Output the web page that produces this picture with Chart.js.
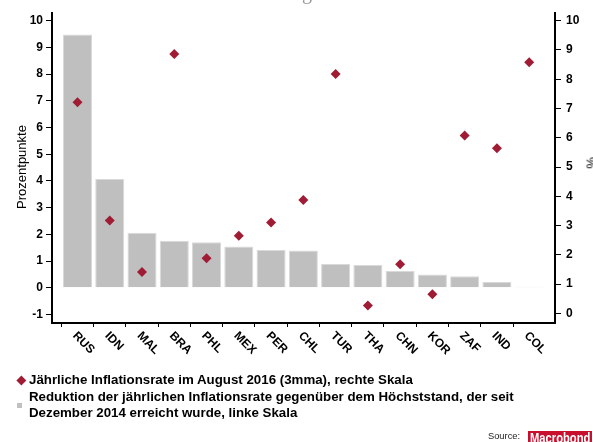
<!DOCTYPE html>
<html><head><meta charset="utf-8">
<script src="https://cdn.jsdelivr.net/npm/chart.js@4/dist/chart.umd.min.js"></script>
<style>
html,body{margin:0;padding:0;background:#fff;}
#wrap{position:relative;width:593px;height:442px;overflow:hidden;font-family:"Liberation Sans",Arial,sans-serif;}
canvas{position:absolute;left:0;top:0;}
.t{position:absolute;white-space:nowrap;color:#000;}
</style></head><body>
<div id="wrap">
<canvas id="c" width="593" height="442"></canvas>
<div class="t" id="ytl" style="left:21px;top:166.5px;font-size:13px;transform:translate(-50%,-50%) rotate(-90deg);">Prozentpunkte</div>
<div class="t" id="ytr" style="left:591px;top:162.5px;font-size:13px;transform:translate(-50%,-50%) rotate(90deg);">%</div>
<div style="position:absolute;left:17.5px;top:376.5px;width:6.7px;height:6.7px;background:#a01c35;transform:rotate(45deg);"></div>
<div class="t" style="left:29px;top:371.6px;font-size:13.3px;font-weight:bold;line-height:16px;">Jährliche Inflationsrate im August 2016 (3mma), rechte Skala</div>
<div style="position:absolute;left:17px;top:402.5px;width:5.3px;height:5.3px;background:#c0c0c0;"></div>
<div class="t" style="left:29px;top:389px;font-size:13.3px;font-weight:bold;line-height:16px;">Reduktion der jährlichen Inflationsrate gegenüber dem Höchststand, der seit<br>Dezember 2014 erreicht wurde, linke Skala</div>
<div class="t" style="left:488px;top:430.6px;font-size:9.3px;line-height:11px;color:#222;">Source:</div>
<div style="position:absolute;left:528px;top:431px;width:64px;height:14px;background:#c8102e;overflow:hidden;">
  <div class="t" style="left:2px;top:0;font-size:14px;font-weight:bold;line-height:14px;color:#fff;transform-origin:0 0;transform:scaleX(0.8);">Macrobond</div>
</div>
</div>
<script>
const categories = ['RUS','IDN','MAL','BRA','PHL','MEX','PER','CHL','TUR','THA','CHN','KOR','ZAF','IND','COL'];
// Reduction of annual inflation from peak since Dec 2014 (left axis, percentage points)
const reduction = [9.48, 4.07, 2.06, 1.76, 1.70, 1.54, 1.41, 1.39, 0.89, 0.85, 0.63, 0.49, 0.43, 0.21, 0.04];
// Annual inflation rate August 2016, 3mma (right axis, %)
const inflation = [7.21, 3.17, 1.41, 8.86, 1.88, 2.65, 3.10, 3.87, 8.18, 0.27, 1.68, 0.65, 6.08, 5.64, 8.58];
const leftTicks = [-1, 0, 1, 2, 3, 4, 5, 6, 7, 8, 9, 10];
const rightTicks = [0, 1, 2, 3, 4, 5, 6, 7, 8, 9, 10];
const xTickMarks = [-0.5, 0.5, 1.5, 2.5, 3.5, 4.5, 5.5, 6.5, 7.5, 8.5, 9.5, 10.5, 11.5, 12.5, 13.5];
const topFragment = 'Inflation mit deutlicher Abschwächung';

const FONT = '"Liberation Sans", Arial, sans-serif';

const xLabelPlugin = {
  id: 'xlabels',
  afterDraw(chart) {
    const ctx = chart.ctx, xs = chart.scales.x, area = chart.chartArea;
    ctx.save();
    ctx.font = 'bold 12px ' + FONT;
    ctx.fillStyle = '#000';
    ctx.textAlign = 'left';
    ctx.textBaseline = 'middle';
    categories.forEach((c, i) => {
      const px = xs.getPixelForValue(i);
      ctx.save();
      ctx.translate(px - 3, area.bottom + 11);
      ctx.rotate(Math.PI / 4);
      ctx.fillText(c, 0, 0);
      ctx.restore();
    });
    ctx.font = '20px "Liberation Serif", serif';
    ctx.fillStyle = '#999';
    ctx.textAlign = 'right';
    ctx.textBaseline = 'alphabetic';
    ctx.fillText(topFragment, 312, -1);
    ctx.restore();
  }
};

const tickFont = { family: FONT, size: 12, weight: 'bold' };

new Chart(document.getElementById('c'), {
  type: 'bar',
  data: {
    datasets: [
      {
        type: 'scatter',
        label: 'Jährliche Inflationsrate im August 2016 (3mma), rechte Skala',
        data: inflation.map((v, i) => ({ x: i, y: v })),
        yAxisID: 'y2',
        pointStyle: 'rectRot',
        pointRadius: 5,
        pointHoverRadius: 5,
        backgroundColor: '#a01c35',
        borderColor: '#a01c35',
        borderWidth: 0,
        order: 0
      },
      {
        type: 'bar',
        label: 'Reduktion der jährlichen Inflationsrate gegenüber dem Höchststand, der seit Dezember 2014 erreicht wurde, linke Skala',
        data: reduction.map((v, i) => ({ x: i, y: v })),
        yAxisID: 'y',
        backgroundColor: '#bfbfbf',
        borderColor: '#d9d9d9',
        borderWidth: 1,
        barPercentage: 0.9,
        categoryPercentage: 1.0,
        order: 1
      }
    ]
  },
  options: {
    responsive: false,
    animation: false,
    devicePixelRatio: 1,
    layout: { padding: { top: 13, left: 0, right: 0, bottom: 0 } },
    plugins: { legend: { display: false }, tooltip: { enabled: false } },
    scales: {
      x: {
        type: 'linear',
        position: 'bottom',
        offset: false,
        min: -0.79,
        max: 14.8,
        afterBuildTicks: s => { s.ticks = xTickMarks.map(v => ({ value: v })); },
        afterFit: s => { s.height = 119; },
        grid: { offset: false, drawOnChartArea: false, drawTicks: true, tickLength: 4, color: '#000', lineWidth: 1 },
        border: { display: true, color: '#000', width: 2 },
        ticks: { display: false }
      },
      y: {
        position: 'left',
        min: -1.322,
        max: 10.288,
        afterBuildTicks: s => { s.ticks = leftTicks.map(v => ({ value: v })); },
        afterFit: s => { s.width = 52; },
        grid: { drawOnChartArea: false, drawTicks: true, tickLength: 6, color: '#000', lineWidth: 1 },
        border: { display: true, color: '#000', width: 2 },
        ticks: { color: '#000', font: tickFont, padding: 3 }
      },
      y2: {
        position: 'right',
        min: -0.331,
        max: 10.263,
        afterBuildTicks: s => { s.ticks = rightTicks.map(v => ({ value: v })); },
        afterFit: s => { s.width = 38; },
        grid: { drawOnChartArea: false, drawTicks: true, tickLength: 6, color: '#000', lineWidth: 1 },
        border: { display: true, color: '#000', width: 2 },
        ticks: { color: '#000', font: tickFont, padding: 5 }
      }
    }
  },
  plugins: [xLabelPlugin]
});
</script>
</body></html>
